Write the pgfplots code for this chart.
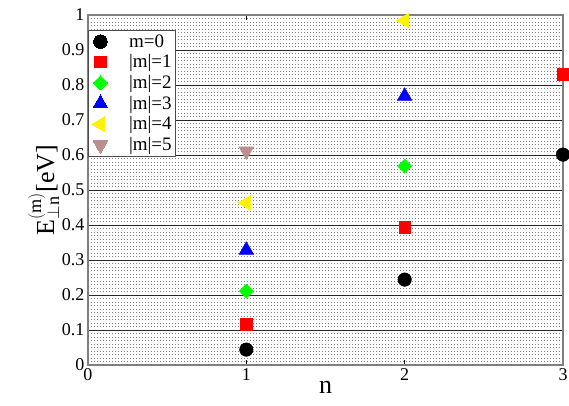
\documentclass[border=0pt]{standalone}
\usepackage{pgfplots}
\pgfplotsset{compat=1.18}
\usepackage{fontspec}
\setmainfont{Liberation Serif}
\definecolor{rosy}{RGB}{188,143,143}
\begin{document}
\begin{tikzpicture}
\begin{axis}[
  scale only axis, width=475pt, height=350pt,
  xmin=0, xmax=3, ymin=0, ymax=1,
  xtick={0,1,2,3}, ytick={0,0.1,...,1.0},
  yticklabels={0,0.1,0.2,0.3,0.4,0.5,0.6,0.7,0.8,0.9,1},
  minor y tick num=9,
  ymajorgrids, yminorgrids,
  major grid style={black!85, line width=0.8pt},
  minor grid style={gray, dash pattern=on 0.8pt off 2.2pt, line width=0.8pt},
  tick align=inside, major tick length=5pt, minor tick length=0pt,
  tick style={black, line width=0.6pt},
  axis line style={gray, line width=1.2pt},
  ytick style={draw=none},
  tick label style={font=\fontsize{18}{18}\selectfont},
  /pgf/number format/assume math mode=true,
  xlabel={n}, ylabel={E$^{(\mathrm{m})}_{\perp \mathrm{n}}$[eV]},
  label style={font=\fontsize{26}{26}\selectfont},
  xlabel style={yshift=6pt},
  ylabel style={yshift=-4pt},
  clip=false,
  legend style={at={(0,0.957)}, anchor=north west, font=\fontsize{19}{19}\selectfont,
    draw=black!70, line width=1pt, inner sep=2pt, row sep=2pt, fill=white},
  legend cell align=left,
  legend image code/.code={\path (0,0) (1.25cm,0); \draw[#1, line width=0pt] plot coordinates {(0.33cm,0cm)};},
]
\addplot[only marks, mark=*, mark size=6.8pt, black, fill=black] coordinates {(1,0.044) (2,0.244) (3,0.601)};
\addlegendentry{m=0}
\addplot[only marks, mark=square*, mark size=5.8pt, red, fill=red] coordinates {(1,0.117) (2,0.394) (3,0.831)};
\addlegendentry{\textbar m\textbar=1}
\addplot[only marks, mark=square*, mark options={rotate=45}, mark size=5pt, green, fill=green] coordinates {(1,0.211) (2,0.568)};
\addlegendentry{\textbar m\textbar=2}
\addplot[only marks, mark=triangle*, mark size=8.5pt, blue, fill=blue] coordinates {(1,0.328) (2,0.768)};
\addlegendentry{\textbar m\textbar=3}
\addplot[only marks, mark=triangle*, mark options={rotate=90}, mark size=8.5pt, yellow, fill=yellow] coordinates {(1,0.463) (2,0.984)};
\addlegendentry{\textbar m\textbar=4}
\addplot[only marks, mark=triangle*, mark options={rotate=180}, mark size=8.5pt, rosy, fill=rosy] coordinates {(1,0.611)};
\addlegendentry{\textbar m\textbar=5}
\end{axis}
\pgfresetboundingbox
\path[use as bounding box] ([xshift=-88pt,yshift=-41pt]current axis.south west) rectangle ([xshift=6pt,yshift=15pt]current axis.north east);
\end{tikzpicture}
\end{document}
